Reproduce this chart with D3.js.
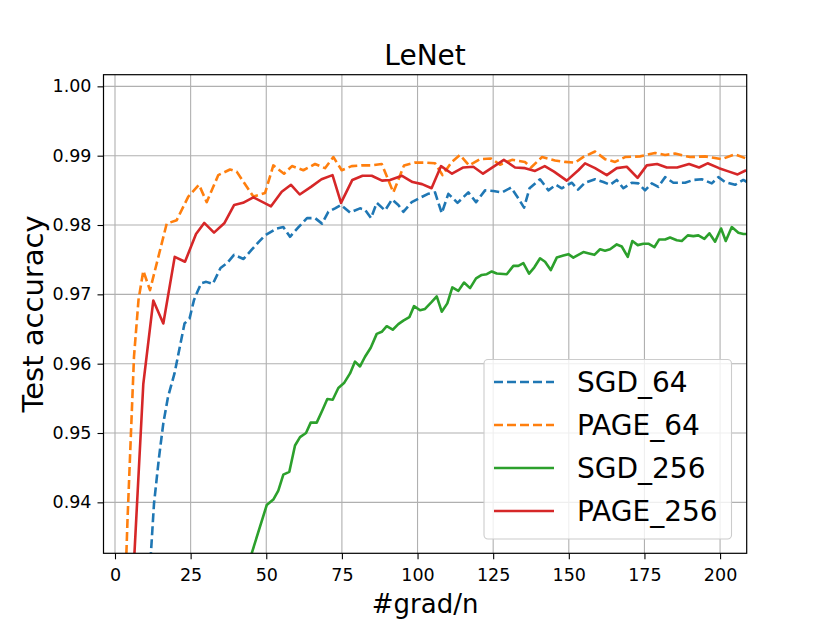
<!DOCTYPE html>
<html>
<head>
<meta charset="utf-8">
<script src="https://cdn.jsdelivr.net/npm/d3@7"></script>
<style>
  html, body { margin: 0; padding: 0; background: #fff; }
  text { font-family: "DejaVu Sans", sans-serif; }
</style>
</head>
<body>
<script>
// ---------- data ----------
const title = "LeNet";
const xLabel = "#grad/n";
const yLabel = "Test accuracy";
const xTicks = [0, 25, 50, 75, 100, 125, 150, 175, 200];
const yTicks = [0.94, 0.95, 0.96, 0.97, 0.98, 0.99, 1.00];
const seriesNames = ["SGD_64", "PAGE_64", "SGD_256", "PAGE_256"];

const sgd64X = [10.91,12.89,14.55,15.97,17.52,19.67,22.98,24.63,26.12,27.27,28.5,30.15,32.33,34.88,37.02,39.34,42.48,45.12,47.6,49.59,53.45,55.64,57.85,60.66,63.47,66.12,68.43,70.51,72.73,74.71,77.69,80.99,82.64,84.63,86.51,89.26,91.57,93.65,95.31,98.08,100.26,103.47,105.79,108.0,110.18,113.22,116.79,119.34,122.31,125.06,127.93,130.91,132.79,135.21,137.02,140.5,143.24,145.79,147.67,150.98,153.06,155.37,158.68,161.42,163.64,165.85,168.03,170.81,173.0,175.21,177.42,179.6,181.82,184.56,188.43,191.17,193.95,197.26,199.44,201.65,204.96,207.7,208.9];
const sgd64Y = [0.9259,0.9398,0.9465,0.9514,0.9552,0.9586,0.9658,0.9665,0.9692,0.9704,0.9716,0.9718,0.9715,0.9738,0.9745,0.9757,0.9751,0.9764,0.9776,0.9785,0.9795,0.9797,0.9783,0.9797,0.9810,0.9810,0.9802,0.9819,0.9824,0.9829,0.9818,0.9824,0.9822,0.9810,0.9832,0.9821,0.9837,0.9829,0.9819,0.9833,0.9838,0.9845,0.9847,0.9817,0.9845,0.9832,0.9847,0.9833,0.9850,0.9849,0.9847,0.9854,0.9842,0.9825,0.9853,0.9866,0.9850,0.9858,0.9853,0.9861,0.9851,0.9861,0.9866,0.9862,0.9858,0.9865,0.9853,0.9861,0.9860,0.9850,0.9860,0.9855,0.9869,0.9861,0.9861,0.9865,0.9866,0.9860,0.9869,0.9862,0.9858,0.9865,0.9862];

const page64X = [3.47,4.13,6.28,7.77,9.36,11.57,17.09,20.4,24.23,27.77,30.31,34.15,38.02,40.23,45.72,49.59,52.33,55.87,58.5,62.25,66.12,69.42,72.17,74.94,78.25,81.55,84.86,88.17,92.0,95.54,99.17,102.48,105.79,108.26,111.3,114.05,117.02,120.66,124.3,127.27,131.24,135.5,137.52,141.16,145.45,148.76,152.07,154.71,158.68,161.98,165.29,168.6,173.55,178.51,181.82,185.12,190.08,195.04,200.56,204.96,208.6];
const page64Y = [0.9288,0.9374,0.9610,0.9692,0.9734,0.9706,0.9802,0.9807,0.9841,0.9858,0.9833,0.9872,0.9880,0.9877,0.9841,0.9846,0.9886,0.9874,0.9885,0.9879,0.9888,0.9882,0.9898,0.9879,0.9885,0.9886,0.9886,0.9888,0.9847,0.9886,0.9890,0.9890,0.9889,0.9872,0.9891,0.9901,0.9886,0.9895,0.9896,0.9887,0.9894,0.9891,0.9883,0.9898,0.9893,0.9891,0.9890,0.9898,0.9906,0.9895,0.9891,0.9898,0.9899,0.9904,0.9901,0.9903,0.9898,0.9899,0.9895,0.9902,0.9896];

const sgd256X = [44.3,50.15,52.33,53.98,55.64,57.62,59.5,61.16,63.14,64.69,66.68,68.66,70.18,71.97,73.82,75.7,77.69,79.34,80.99,82.64,84.53,86.51,88.17,89.82,91.8,93.65,95.31,97.29,98.84,100.83,102.48,104.69,106.35,108.0,109.85,111.5,113.49,115.37,117.36,119.34,121.22,122.88,124.53,126.18,129.49,131.67,133.32,134.98,136.86,138.61,140.5,142.15,144.03,146.02,148.2,149.85,151.5,154.81,156.7,158.45,160.33,161.98,163.64,165.85,167.5,169.49,171.01,172.79,174.64,176.3,178.28,179.83,181.82,183.47,185.69,187.34,189.32,191.17,192.83,194.81,196.46,198.35,200.33,201.88,203.87,206.05,207.7,208.93];
const sgd256Y = [0.9314,0.9396,0.9404,0.9417,0.9440,0.9444,0.9482,0.9494,0.9500,0.9515,0.9515,0.9534,0.9549,0.9548,0.9565,0.9572,0.9586,0.9603,0.9596,0.9610,0.9623,0.9643,0.9646,0.9654,0.9649,0.9657,0.9662,0.9667,0.9683,0.9677,0.9679,0.9689,0.9697,0.9675,0.9687,0.9710,0.9705,0.9717,0.9709,0.9723,0.9728,0.9729,0.9733,0.9730,0.9729,0.9741,0.9741,0.9745,0.9730,0.9739,0.9752,0.9747,0.9735,0.9753,0.9756,0.9758,0.9753,0.9761,0.9759,0.9757,0.9765,0.9763,0.9765,0.9772,0.9769,0.9754,0.9777,0.9771,0.9773,0.9773,0.9768,0.9779,0.9779,0.9782,0.9778,0.9777,0.9785,0.9784,0.9785,0.9780,0.9788,0.9776,0.9795,0.9777,0.9797,0.9789,0.9787,0.9787];

const page256X = [5.62,9.36,12.66,15.97,19.74,23.14,26.78,29.49,32.73,36.2,39.4,42.31,45.72,51.57,55.11,58.18,61.06,64.79,68.26,71.9,74.71,78.45,81.82,84.86,88.26,90.91,94.88,98.35,101.49,104.63,107.77,111.4,115.14,118.45,121.65,128.53,132.23,135.54,138.84,142.05,145.12,149.32,153.16,155.37,158.68,162.55,165.85,169.16,172.73,175.77,179.17,182.38,185.79,189.75,193.06,195.87,199.67,202.98,205.79,208.6];
const page256Y = [0.9259,0.9571,0.9691,0.9658,0.9754,0.9747,0.9787,0.9803,0.9789,0.9803,0.9829,0.9832,0.9840,0.9827,0.9848,0.9858,0.9844,0.9855,0.9866,0.9872,0.9832,0.9865,0.9871,0.9871,0.9864,0.9865,0.9871,0.9862,0.9859,0.9853,0.9885,0.9874,0.9883,0.9884,0.9874,0.9894,0.9883,0.9882,0.9878,0.9885,0.9877,0.9864,0.9879,0.9889,0.9882,0.9872,0.9882,0.9884,0.9868,0.9886,0.9888,0.9883,0.9883,0.9888,0.9883,0.9889,0.9882,0.9877,0.9873,0.9879];

// ---------- layout ----------
const W = 830, H = 623;
const L = 103.5, R = 746.7, T = 74.7, B = 553.3;
const colors = ["#1f77b4", "#ff7f0e", "#2ca02c", "#d62728"];
const dashes = ["9,4", "9,4", null, null];

const svg = d3.select("body").append("svg").attr("width", W).attr("height", H);
svg.append("rect").attr("width", W).attr("height", H).attr("fill", "#fff");

const x = d3.scaleLinear().domain([-3.8, 208.8]).range([L, R]);
const y = d3.scaleLinear().domain([0.93265, 1.00168]).range([B, T]);

// grid
const grid = svg.append("g");
grid.selectAll(".gx").data(xTicks).enter().append("line")
  .attr("x1", d => x(d)).attr("x2", d => x(d)).attr("y1", T).attr("y2", B)
  .attr("stroke", "#b0b0b0").attr("stroke-width", 1.1);
grid.selectAll(".gy").data(yTicks).enter().append("line")
  .attr("x1", L).attr("x2", R).attr("y1", d => y(d)).attr("y2", d => y(d))
  .attr("stroke", "#b0b0b0").attr("stroke-width", 1.1);

// clip
svg.append("defs").append("clipPath").attr("id", "clip")
  .append("rect").attr("x", L).attr("y", T).attr("width", R - L).attr("height", B - T);

const series = [
  {xs: sgd64X, ys: sgd64Y},
  {xs: page64X, ys: page64Y},
  {xs: sgd256X, ys: sgd256Y},
  {xs: page256X, ys: page256Y}
];
const line = d3.line().x(d => x(d[0])).y(d => y(d[1]));
const lines = svg.append("g").attr("clip-path", "url(#clip)");
series.forEach((s, i) => {
  const pts = s.xs.map((xv, j) => [xv, s.ys[j]]);
  lines.append("path").datum(pts).attr("d", line)
    .attr("fill", "none").attr("stroke", colors[i]).attr("stroke-width", 2.6)
    .attr("stroke-linejoin", "round")
    .attr("stroke-dasharray", dashes[i]);
});

// axes
const xAxis = d3.axisBottom(x).tickValues(xTicks).tickSize(6).tickPadding(9).tickFormat(d3.format("d"));
const yAxis = d3.axisLeft(y).tickValues(yTicks).tickSize(6).tickPadding(6).tickFormat(d3.format(".2f"));
const gx = svg.append("g").attr("transform", `translate(0,${B})`).call(xAxis);
const gy = svg.append("g").attr("transform", `translate(${L},0)`).call(yAxis);
[gx, gy].forEach(g => {
  g.select(".domain").remove();
  g.selectAll("line").attr("stroke", "#000").attr("stroke-width", 1.1);
  g.selectAll("text").attr("font-family", "DejaVu Sans").attr("font-size", 17.5).attr("fill", "#000");
});
svg.append("rect").attr("x", L).attr("y", T).attr("width", R - L).attr("height", B - T)
  .attr("fill", "none").attr("stroke", "#000").attr("stroke-width", 1.2);

// title & labels
svg.append("text").attr("x", (L + R) / 2).attr("y", 65).attr("text-anchor", "middle")
  .attr("font-size", 28).text(title);
svg.append("text").attr("x", (L + R) / 2).attr("y", 613).attr("text-anchor", "middle")
  .attr("font-size", 26).text(xLabel);
svg.append("text").attr("transform", `translate(43,${(T + B) / 2}) rotate(-90)`)
  .attr("text-anchor", "middle").attr("font-size", 29).text(yLabel);

// legend
const lg = svg.append("g");
lg.append("rect").attr("x", 484).attr("y", 359.5).attr("width", 247.5).attr("height", 179.5)
  .attr("rx", 4).attr("fill", "#fff").attr("fill-opacity", 0.8)
  .attr("stroke", "#cccccc").attr("stroke-width", 1.1);
const rowY = [382, 425, 468, 511];
seriesNames.forEach((name, i) => {
  lg.append("line").attr("x1", 494).attr("x2", 554).attr("y1", rowY[i]).attr("y2", rowY[i])
    .attr("stroke", colors[i]).attr("stroke-width", 2.6).attr("stroke-dasharray", dashes[i]);
  lg.append("text").attr("x", 577).attr("y", rowY[i] + 10).attr("font-size", 28).text(name);
});
</script>
</body>
</html>
